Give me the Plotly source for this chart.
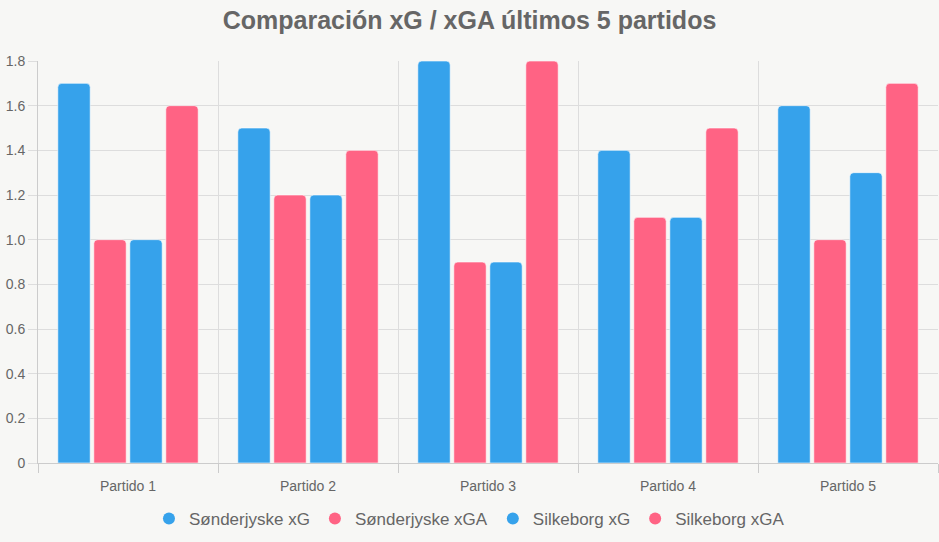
import plotly.graph_objects as go

categories = ["Partido 1", "Partido 2", "Partido 3", "Partido 4", "Partido 5"]
series_names = ["Sønderjyske xG", "Sønderjyske xGA", "Silkeborg xG", "Silkeborg xGA"]
sonderjyske_xg = [1.7, 1.5, 1.8, 1.4, 1.6]
sonderjyske_xga = [1.0, 1.2, 0.9, 1.1, 1.0]
silkeborg_xg = [1.0, 1.2, 0.9, 1.1, 1.3]
silkeborg_xga = [1.6, 1.4, 1.8, 1.5, 1.7]
y_tickvals = [0, 0.2, 0.4, 0.6, 0.8, 1.0, 1.2, 1.4, 1.6, 1.8]
y_ticktext = ["0", "0.2", "0.4", "0.6", "0.8", "1.0", "1.2", "1.4", "1.6", "1.8"]

BLUE = "#36A2EB"
PINK = "#FF6384"
colors = [BLUE, PINK, BLUE, PINK]
values = [sonderjyske_xg, sonderjyske_xga, silkeborg_xg, silkeborg_xga]

fig = go.Figure()
for name, vals, c in zip(series_names, values, colors):
    fig.add_trace(go.Bar(
        x=categories, y=vals, name=name, showlegend=False,
        marker=dict(color=c, line=dict(color="rgba(255,255,255,0.6)", width=1)),
        hoverinfo="x+y+name",
    ))
for name, c in zip(series_names, colors):
    fig.add_trace(go.Scatter(
        x=[None], y=[None], mode="markers", name=name,
        marker=dict(color=c, size=16, symbol="circle"), showlegend=True,
    ))

fig.update_layout(
    width=939, height=542,
    paper_bgcolor="#f7f7f5", plot_bgcolor="#f7f7f5",
    margin=dict(l=38, r=1, t=61, b=79),
    font=dict(family="Liberation Sans, Arial, sans-serif", color="#666666", size=13),
    title=dict(text="<b>Comparación xG / xGA últimos 5 partidos</b>",
               x=0.5, xanchor="center", y=1 - 20 / 542, yanchor="middle",
               font=dict(size=25, color="#666666")),
    barmode="group", bargap=0.2, bargroupgap=0.1, barcornerradius=4,
    legend=dict(orientation="h", x=0.4794, xanchor="center", y=-0.139, yanchor="middle",
                font=dict(size=17, color="#666666"), itemsizing="constant",
                bgcolor="rgba(0,0,0,0)", itemwidth=30),
    showlegend=True,
)
fig.update_xaxes(
    type="category", tickson="boundaries", showgrid=True, gridcolor="#dddddd",
    ticks="outside", ticklen=9, tickcolor="#cccccc", showline=True, linecolor="#cccccc",
    tickfont=dict(size=14, color="#666666"), zeroline=False, mirror=False,
    ticklabelstandoff=10,
)
fig.update_yaxes(
    range=[0, 1.8], tickvals=y_tickvals, ticktext=y_ticktext,
    showgrid=True, gridcolor="#dddddd", ticks="outside", ticklen=9, tickcolor="#dddddd",
    showline=True, linecolor="#cccccc", zeroline=False,
    tickfont=dict(size=14, color="#666666"),
)

fig.write_html("out.html")
